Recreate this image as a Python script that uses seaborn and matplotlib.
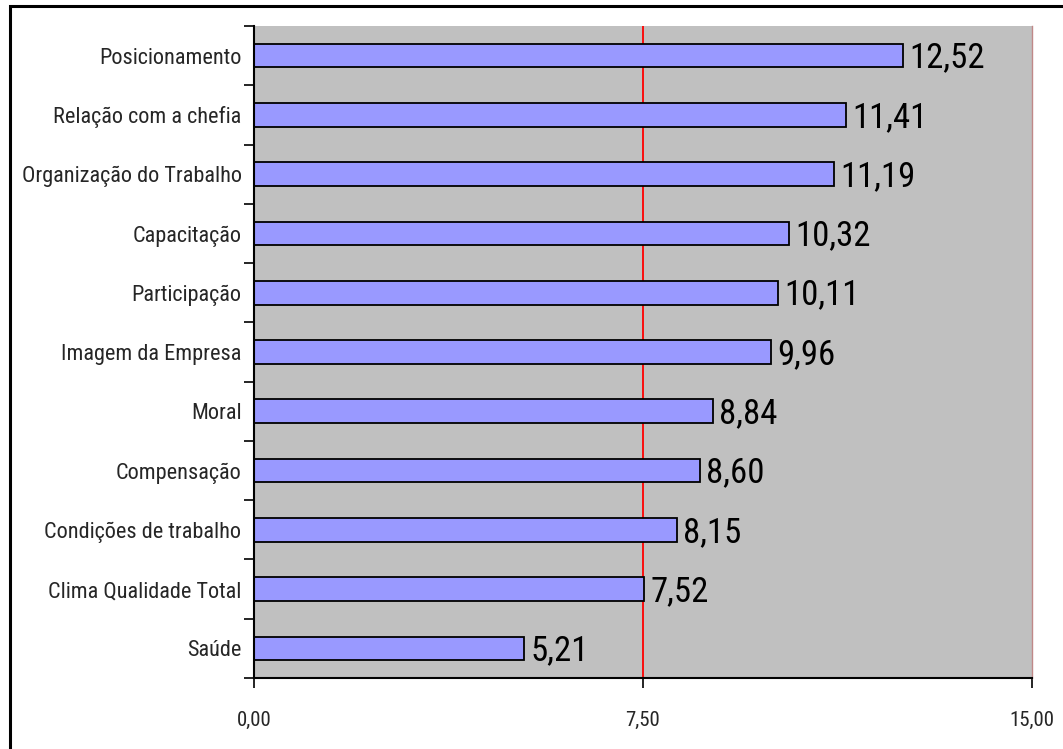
import matplotlib
matplotlib.use("Agg")
import matplotlib.pyplot as plt
from matplotlib import font_manager
from matplotlib.font_manager import FontProperties
from matplotlib.patches import Rectangle
from matplotlib.ticker import FixedLocator
import seaborn as sns
import pandas as pd

categories = [
    "Posicionamento",
    "Relação com a chefia",
    "Organização do Trabalho",
    "Capacitação",
    "Participação",
    "Imagem da Empresa",
    "Moral",
    "Compensação",
    "Condições de trabalho",
    "Clima Qualidade Total",
    "Saúde",
]
values = [12.52, 11.41, 11.19, 10.32, 10.11, 9.96, 8.84, 8.60, 8.15, 7.52, 5.21]
x_ticks = [0.0, 7.5, 15.0]
reference_value = 7.5

df = pd.DataFrame({"categoria": categories, "valor": values})

sns.set_theme(style="white")
plt.rcParams["font.family"] = ["Liberation Sans", "DejaVu Sans"]


def pick_narrow_font():
    """Return the path of a regular-weight condensed sans font, if one exists."""
    found = []
    for f in font_manager.fontManager.ttflist:
        narrow = ("Narrow" in f.name or "Condensed" in f.name
                  or str(f.stretch) in ("condensed", "semi-condensed", "extra-condensed"))
        regular = f.style == "normal" and f.weight in (400, "normal", "regular", "book")
        if narrow and regular:
            found.append(f)
    order = ["Liberation Sans Narrow", "Roboto Condensed", "Open Sans Condensed", "DejaVu Sans"]
    found.sort(key=lambda f: order.index(f.name) if f.name in order else len(order))
    return found[0].fname if found else None


narrow_path = pick_narrow_font()
if narrow_path:
    label_font = FontProperties(fname=narrow_path, size=16)
    value_font = FontProperties(fname=narrow_path, size=25)
    tick_font = FontProperties(fname=narrow_path, size=15)
else:
    label_font = FontProperties(family="Liberation Sans", size=13.5)
    value_font = FontProperties(family="Liberation Sans", size=21)
    tick_font = FontProperties(family="Liberation Sans", size=13)

W, H, DPI = 1063, 749, 100
fig = plt.figure(figsize=(W / DPI, H / DPI), dpi=DPI)
fig.patch.set_facecolor("white")

left, right, top, bottom = 254, 1032, 26, 678
ax = fig.add_axes([left / W, 1 - bottom / H, (right - left) / W, (bottom - top) / H])
ax.set_facecolor("#C0C0C0")

# reference line behind the bars
ax.axvline(reference_value, color="#FF0000", linewidth=1.3, zorder=0.5)

sns.barplot(data=df, y="categoria", x="valor", orient="h", color="#9999FF",
            saturation=1, width=0.4, edgecolor="black", linewidth=1.3, ax=ax,
            zorder=2)

ax.set_xlim(0, 15)
ax.set_ylim(len(categories) - 0.5, -0.5)
ax.set_xlabel("")
ax.set_ylabel("")

# value labels to the right of each bar
for i, v in enumerate(values):
    ax.text(v + 0.12, i + 0.04, f"{v:.2f}".replace(".", ","), va="center", ha="left",
            fontproperties=value_font, color="black", zorder=3)

# x axis
ax.set_xticks(x_ticks)
ax.set_xticklabels([f"{t:.2f}".replace(".", ",") for t in x_ticks], fontproperties=tick_font)
ax.tick_params(axis="x", which="major", direction="out", length=7, width=1.2,
               color="black", pad=17, bottom=True)

# y axis: labels centred on bars, tick marks at category boundaries
ax.set_yticks(range(len(categories)))
ax.set_yticklabels(categories, fontproperties=label_font)
ax.tick_params(axis="y", which="major", length=0, pad=9)
ax.yaxis.set_minor_locator(FixedLocator([i - 0.5 for i in range(len(categories) + 1)]))
ax.tick_params(axis="y", which="minor", direction="out", length=7, width=1.2,
               color="black", left=True)

for side in ("left", "bottom"):
    ax.spines[side].set_color("black")
    ax.spines[side].set_linewidth(1.5)
ax.spines["top"].set_visible(False)
ax.spines["right"].set_color("#C08888")
ax.spines["right"].set_linewidth(1.0)

# outer frame of the chart area
fig.patches.append(Rectangle((10 / W, -0.05), 1.1, 1 - 6 / H + 0.05,
                             transform=fig.transFigure, fill=False,
                             edgecolor="black", linewidth=2.2))

fig.savefig("out.png", dpi=DPI)
